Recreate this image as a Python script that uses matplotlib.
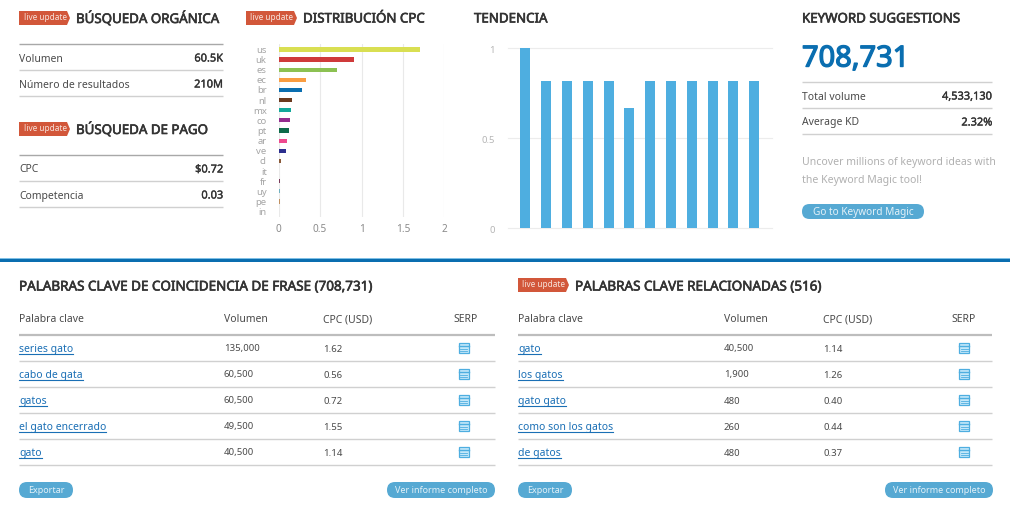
#!/usr/bin/env python
import matplotlib
matplotlib.use("Agg")
import matplotlib.pyplot as plt
import matplotlib.patheffects as pe
from matplotlib.patches import FancyBboxPatch, Polygon, Rectangle
from matplotlib.transforms import ScaledTranslation

plt.rcParams['font.family'] = ['Noto Sans', 'DejaVu Sans']

W, H = 1010, 516

# chart values
cpc_countries = ["us", "uk", "es", "ec", "br", "nl", "mx", "co", "pt", "ar", "ve", "cl", "it", "fr", "uy", "pe", "in"]
cpc_values = [1.71, 0.91, 0.71, 0.325, 0.285, 0.165, 0.148, 0.136, 0.124, 0.096, 0.085, 0.024, 0.008, 0.012, 0.01, 0.01, 0.0]
cpc_colors = ["#d9df52", "#cf3a3a", "#8cc152", "#f99d42", "#0a6eb0", "#6b3a1e", "#12a89a", "#932d8e",
              "#0e6b4a", "#ee4a8e", "#2c2f8e", "#8a5a3a", "#e8e08a", "#7a3a5a", "#70b0c0", "#c09060", "#dddddd"]
cpc_ticks = [0, 0.5, 1, 1.5, 2]
cpc_ticklabels = ["0", "0.5", "1", "1.5", "2"]

trend_values = [1.0, 0.815, 0.815, 0.815, 0.815, 0.665, 0.815, 0.815, 0.815, 0.815, 0.815, 0.815]
trend_ticks = [0, 0.5, 1]
trend_ticklabels = ["0", "0.5", "1"]

# table contents
organic_rows = [("Volumen", "60.5K"), ("Número de resultados", "210M")]
paid_rows = [("CPC", "$0.72"), ("Competencia", "0.03")]
suggest_rows = [("Total volume", "4,533,130"), ("Average KD", "2.32%")]
table_header = ["Palabra clave", "Volumen", "CPC (USD)", "SERP"]
phrase_keywords = ["series gato", "cabo de gata", "gatos", "el gato encerrado", "gato"]
phrase_volumes = ["135,000", "60,500", "60,500", "49,500", "40,500"]
phrase_cpc = ["1.62", "0.56", "0.72", "1.55", "1.14"]
related_keywords = ["gato", "los gatos", "gato gato", "como son los gatos", "de gatos"]
related_volumes = ["40,500", "1,900", "480", "260", "480"]
related_cpc = ["1.14", "1.26", "0.40", "0.44", "0.37"]

DARK = "#333333"
BODY = "#4a4a4a"
LINE = "#d0d0d0"
BADGE = "#d2573a"
BUTTON = "#56a9d3"
LINK = "#1a6fb5"


def px(size):
    return size * 0.72


fig = plt.figure(figsize=(W / 100, H / 100), dpi=100, facecolor="white")
page = fig.add_axes([0, 0, 1, 1])
page.set_xlim(0, W)
page.set_ylim(H, 0)
page.axis("off")


def write(x, y, s, size=10.5, color=BODY, ha="left", stroke=0):
    # Noto Sans has no medium weight here, so thicken with a stroke
    t = page.text(x, y + 1, s, fontsize=px(size), color=color, ha=ha, va="center")
    if stroke:
        t.set_path_effects([pe.withStroke(linewidth=stroke, foreground=color)])
    return t


def title(x, y, s, size=13.3):
    write(x, y, s, size=size, color=DARK, stroke=0.45)


def hline(x0, x1, y, lw=1.0, color=LINE):
    page.plot([x0, x1], [y, y], color=color, lw=lw, solid_capstyle="butt")


def badge(x, y):
    # little flag with a pointed right side
    pts = [(x, y), (x + 48, y), (x + 51, y + 7), (x + 48, y + 14), (x, y + 14)]
    page.add_patch(Polygon(pts, closed=True, fc=BADGE, ec="none"))
    write(x + 4.5, y + 5.5, "live update", size=8.2, color="#f7e3dc")


def button(x0, x1, y0, y1, s, size=9):
    r = (y1 - y0) / 2
    page.add_patch(FancyBboxPatch((x0, y0), x1 - x0, y1 - y0,
                                  boxstyle="round,pad=0,rounding_size=%f" % r,
                                  fc=BUTTON, ec="none"))
    page.text((x0 + x1) / 2, (y0 + y1) / 2 + 0.5, s, fontsize=px(size), color="#e3f1f8", ha="center", va="center")


def serp_icon(cx, cy):
    page.add_patch(Rectangle((cx - 5, cy - 5), 10, 10, fc="#c4e8fa", ec="#4eaee0", lw=0.9))
    page.plot([cx - 5, cx + 5], [cy - 2.5, cy - 2.5], color="#4eaee0", lw=1.0)
    for dy in (0.5, 3):
        page.plot([cx - 3.5, cx + 3.5], [cy + dy, cy + dy], color="#4eaee0", lw=0.6)


def small_table(x0, x1, y_top, rows, top_color="#a8a8a8", step=26):
    hline(x0, x1, y_top, lw=1.0, color=top_color)
    for i, (k, v) in enumerate(rows):
        write(x0, y_top + 14 + i * step, k, size=10.4)
        write(x1, y_top + 14 + i * step, v, size=11, color=DARK, ha="right", stroke=0.25)
        hline(x0, x1, y_top + (i + 1) * step)


def keyword_table(x0, x1, cols, icon_x, keywords, volumes, cpcs):
    for cx, s in zip(cols, table_header):
        write(cx, 319, s, size=10.4)
    hline(x0, x1, 335, lw=1.6, color="#bdbdbd")
    fig.canvas.draw()
    r = fig.canvas.get_renderer()
    for i, kw in enumerate(keywords):
        y = 348 + i * 26
        t = write(x0, y + 0.5, kw, size=10.4, color=LINK)
        w = t.get_window_extent(r).width
        page.plot([x0, x0 + w], [y + 5.5, y + 5.5], color=LINK, lw=0.8)
        write(cols[1], y, volumes[i], size=9.6)
        write(cols[2], y, cpcs[i], size=9.6)
        serp_icon(icon_x, y)
        hline(x0, x1, y + 13)


# top left blocks
badge(19, 11)
title(76, 18, "BÚSQUEDA ORGÁNICA")
small_table(19, 223, 44, organic_rows)
badge(19, 122)
title(76, 129, "BÚSQUEDA DE PAGO")
small_table(19, 223, 155, paid_rows)

# CPC distribution
badge(246, 11)
title(303, 18, "DISTRIBUCIÓN CPC")
x0, x1, y0, y1 = 278.7, 444.3, 44.3, 216.7
ax = fig.add_axes([x0 / W, 1 - y1 / H, (x1 - x0) / W, (y1 - y0) / H])
ypos = list(range(len(cpc_countries)))
ax.barh(ypos, cpc_values, height=0.42, color=cpc_colors, zorder=3)
ax.set_xlim(0, 2)
ax.set_ylim(16.5, -0.5)
ax.set_yticks(ypos)
ax.set_yticklabels(cpc_countries)
ax.set_xticks(cpc_ticks)
ax.set_xticklabels(cpc_ticklabels)
ax.tick_params(axis="y", length=0, pad=px(12), labelsize=px(9.5), labelcolor="#a5a5a5")
ax.tick_params(axis="x", length=0, pad=px(7), labelsize=px(10), labelcolor="#8a8a8a")
ax.grid(axis="x", color="#e9e9e9", lw=0.8, zorder=0)
for s in ax.spines.values():
    s.set_visible(False)
ax.patch.set_alpha(0)

# trend
title(474, 18, "TENDENCIA")
x0, x1, y0, y1 = 508, 772, 47.7, 227.7
ax2 = fig.add_axes([x0 / W, 1 - y1 / H, (x1 - x0) / W, (y1 - y0) / H])
months = list(range(len(trend_values)))
ax2.bar(months, trend_values, width=0.48, color="#4eaee0", zorder=3)
ax2.set_xlim(-0.832, 11.86)
ax2.set_ylim(0, 1)
ax2.set_xticks([])
ax2.set_yticks(trend_ticks)
ax2.set_yticklabels(trend_ticklabels)
ax2.tick_params(axis="y", length=0, pad=px(13), labelsize=px(9.5), labelcolor="#b5b5b5")
ax2.grid(axis="y", color="#ececec", lw=0.8, zorder=0)
for s in ax2.spines.values():
    s.set_visible(False)
ax2.patch.set_alpha(0)
for g in ax2.get_ygridlines():
    g.set_clip_on(False)
# labels sit a bit under their gridlines in the original
shift = ScaledTranslation(0, -1.5 / 72, fig.dpi_scale_trans)
for lab in ax2.get_yticklabels():
    lab.set_transform(lab.get_transform() + shift)

# keyword suggestions
title(802, 18, "KEYWORD SUGGESTIONS")
write(802, 58, "708,731", size=29, color="#0a6eb0", stroke=1.0)
small_table(802, 992, 82, suggest_rows, top_color=LINE)
write(802, 162, "Uncover millions of keyword ideas with", size=10.5, color="#b0b0b0")
write(802, 179, "the Keyword Magic tool!", size=10.5, color="#b0b0b0")
button(802, 924, 204, 219, "Go to Keyword Magic", size=10.1)

# separator
page.add_patch(Rectangle((0, 258.4), W, 0.9, fc="#7fc0e6", ec="none"))
page.add_patch(Rectangle((0, 259.2), W, 3, fc="#0a6eb0", ec="none"))

# bottom tables
title(19, 286, "PALABRAS CLAVE DE COINCIDENCIA DE FRASE (708,731)", size=13.45)
keyword_table(19, 495, [19, 224, 323, 453], 463.5, phrase_keywords, phrase_volumes, phrase_cpc)
button(19, 73, 482, 498, "Exportar")
button(387, 495, 482, 498, "Ver informe completo")

badge(518, 278)
title(575, 286, "PALABRAS CLAVE RELACIONADAS (516)", size=13.45)
keyword_table(518, 992, [518, 724, 823, 951], 964, related_keywords, related_volumes, related_cpc)
button(518, 572, 482, 498, "Exportar")
button(885, 993, 482, 498, "Ver informe completo")

fig.savefig("out.png", dpi=100, facecolor="white")
